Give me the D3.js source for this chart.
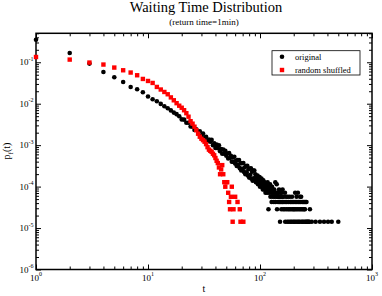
<!DOCTYPE html>
<html><head><meta charset="utf-8">
<script src="https://cdn.jsdelivr.net/npm/d3@7"></script>
<style>body{margin:0;background:#fff}svg{display:block}text{font-family:"Liberation Serif","Times New Roman",serif;fill:#000}</style>
</head><body><svg id="c" width="382" height="296"></svg>
<script>
// ---- data ----
const origT = [1,2,3,4,5,6,7,8,9,10,11,12,13,14,15,16,17,18,19,20,21,22,23,24,25,26,27,28,29,30,
31,32,33,34,35,36,37,38,39,40,41,42,43,44,45,46,47,48,49,50,51,52,53,54,55,56,57,58,59,60,
61,62,63,64,65,66,67,68,69,70,71,72,73,74,75,76,77,78,79,80,81,82,83,84,85,86,87,88,89,
90,91,92,93,94,95,96,97,98,99,100,101,102,103,104,105,106,107,108,109,110,
111,112,113,114,115,116,117,118,119,120,121,122,123,124,125,126,127,128,129,130,
131,132,133,134,135,136,137,138,139,140,141,142,143,144,145,146,147,148,149,150,
151,152,153,154,155,156,157,158,159,160,
161,163,164,166,167,168,170,171,172,174,175,177,178,180,181,183,184,186,187,189,190,192,193,195,196,198,
200,201,203,204,206,207,209,210,212,213,215,216,218,219,221,223,224,226,228,229,231,233,234,236,238,240,
242,244,246,248,250,252,253,256,258,260,263,267,272,276,279,290,314,343,373,405,437,500];
const origP = [0.35,0.168,0.093,0.058,0.0435,0.0335,0.0254,0.0223,0.0189,0.0149,0.0128,0.0115,0.0099,0.0087,0.0078,0.0069,0.0061,0.0056,
5.0e-3,4.18e-3,4.13e-3,3.48e-3,3.48e-3,2.82e-3,2.77e-3,2.32e-3,2.40e-3,2.07e-3,2.16e-3,1.71e-3,
1.91e-3,1.52e-3,1.60e-3,1.25e-3,1.37e-3,1.21e-3,1.34e-3,1.00e-3,1.11e-3,8.59e-4,1.03e-3,8.47e-4,9.91e-4,7.16e-4,8.02e-4,6.21e-4,7.82e-4,6.22e-4,7.31e-4,5.56e-4,
6.27e-4,4.78e-4,6.47e-4,4.94e-4,5.57e-4,3.98e-4,5.05e-4,3.95e-4,5.26e-4,3.59e-4,
4.17e-4,3.13e-4,4.37e-4,3.35e-4,4.38e-4,2.79e-4,3.65e-4,2.44e-4,3.67e-4,2.70e-4,
3.70e-4,2.26e-4,2.90e-4,1.99e-4,3.14e-4,2.21e-4,3.18e-4,1.86e-4,2.62e-4,1.65e-4,
2.72e-4,1.92e-4,2.77e-4,1.55e-4,2.29e-4,1.38e-4,2.44e-4,1.58e-4,2.44e-4,
1.562e-4,1.988e-4,1.278e-4,1.704e-4,1.42e-4,1.846e-4,1.136e-4,1.562e-4,1.278e-4,1.704e-4,9.94e-5,
1.42e-4,1.136e-4,1.562e-4,9.94e-5,1.278e-4,8.52e-5,1.42e-4,1.136e-4,8.52e-5,1.278e-4,
9.94e-5,7.10e-5,1.136e-4,8.52e-5,9.94e-5,7.10e-5,1.278e-4,8.52e-5,2.84e-5,9.94e-5,
7.10e-5,8.52e-5,1.136e-4,5.68e-5,8.52e-5,7.10e-5,4.26e-5,9.94e-5,7.10e-5,5.68e-5,
8.52e-5,7.10e-5,4.26e-5,8.52e-5,5.68e-5,7.10e-5,1.278e-4,4.26e-5,7.10e-5,5.68e-5,
1.136e-4,2.84e-5,7.10e-5,5.68e-5,4.26e-5,7.10e-5,5.68e-5,8.52e-5,4.26e-5,5.68e-5,
1.42e-5,7.10e-5,4.26e-5,5.68e-5,2.84e-5,7.10e-5,4.26e-5,5.68e-5,8.52e-5,4.26e-5,
2.84e-5,5.68e-5,4.26e-5,2.84e-5,7.10e-5,1.42e-5,4.26e-5,5.68e-5,2.84e-5,4.26e-5,1.42e-5,5.68e-5,2.84e-5,4.26e-5,1.42e-5,2.84e-5,5.68e-5,4.26e-5,1.42e-5,2.84e-5,4.26e-5,1.42e-5,5.68e-5,2.84e-5,4.26e-5,1.42e-5,
2.84e-5,4.26e-5,1.42e-5,2.84e-5,7.10e-5,4.26e-5,1.42e-5,2.84e-5,5.68e-5,4.26e-5,1.42e-5,2.84e-5,7.10e-5,4.26e-5,1.42e-5,2.84e-5,4.26e-5,1.42e-5,5.68e-5,2.84e-5,4.26e-5,5.68e-5,1.42e-5,2.84e-5,4.26e-5,1.42e-5,
2.84e-5,4.26e-5,1.42e-5,2.84e-5,4.26e-5,2.84e-5,1.42e-5,4.26e-5,1.42e-5,4.26e-5,1.42e-5,1.42e-5,1.42e-5,1.42e-5,2.84e-5,1.42e-5,1.42e-5,1.42e-5,1.42e-5,1.42e-5,1.42e-5,1.42e-5];

const shufT = [1,2,3,4,5,6,7,8,9,10,11,12,13,14,15,16,17,18,19,20,21,22,23,24,25,26,27,28,29,30,
31,32,33,34,35,36,37,38,39,40,41,42,43,44,45,46,47,48,49,50,51,52,53,54,55,56,57,58,60,63,66,67,71];
const shufP = [0.134,0.116,0.0984,0.0881,0.0745,0.0641,0.0565,0.0486,0.0396,0.0354,0.0317,0.0254,0.0220,0.0192,0.0169,0.0142,0.0121,0.0103,
8.95e-3,8.0e-3,6.97e-3,5.9e-3,4.86e-3,3.79e-3,3.3e-3,2.79e-3,2.30e-3,1.89e-3,1.60e-3,1.43e-3,
1.32e-3,1.21e-3,1.06e-3,8.95e-4,7.8e-4,7.3e-4,6.9e-4,6.2e-4,5.7e-4,4.9e-4,4.2e-4,3.7e-4,2.9e-4,1.988e-4,2.6e-4,3.3e-4,1.988e-4,1.278e-4,9.94e-5,1.278e-4,
1.278e-4,7.10e-5,4.26e-5,2.84e-5,5.68e-5,9.94e-5,1.42e-5,2.84e-5,5.68e-5,4.26e-5,2.84e-5,1.42e-5,1.42e-5];

const xMajor = [1,10,100,1000];
const xMajorExp = ["0","1","2","3"];
const yMajor = [1e-6,1e-5,1e-4,1e-3,1e-2,1e-1];
const yMajorExp = ["-6","-5","-4","-3","-2","-1"];
const seriesNames = ["original","random shuffled"];
const titleText = "Waiting Time Distribution";
const subtitleText = "(return time=1min)";

// ---- layout ----
const L = 36, R = 372, T = 33.3, B = 269.5;
const svg = d3.select("#c");
svg.append("rect").attr("width",382).attr("height",296).attr("fill","#fff");

const x = d3.scaleLog().domain([1,1000]).range([L,R]);
const y = d3.scaleLog().domain([1e-6,0.5]).range([B,T]);

function minors(lo, hi){
  const out=[];
  for(let e=lo;e<hi;e++){ for(let m=2;m<=9;m++){ out.push(m*Math.pow(10,e)); } }
  return out;
}
const xMinor = minors(0,3);
const yMinor = minors(-6,0).filter(v=>v<=0.5);

function axisGroup(axis, tr){
  const g = svg.append("g").attr("transform",tr).call(axis);
  g.select(".domain").remove();
  g.selectAll(".tick line").attr("stroke","#000").attr("stroke-width",1);
  return g;
}
const MJ=5, MN=3;
axisGroup(d3.axisBottom(x).tickValues(xMajor).tickSize(-MJ).tickSizeOuter(0).tickFormat(""), `translate(0,${B})`);
axisGroup(d3.axisBottom(x).tickValues(xMinor).tickSize(-MN).tickSizeOuter(0).tickFormat(""), `translate(0,${B})`);
axisGroup(d3.axisTop(x).tickValues(xMajor).tickSize(-MJ).tickSizeOuter(0).tickFormat(""), `translate(0,${T})`);
axisGroup(d3.axisTop(x).tickValues(xMinor).tickSize(-MN).tickSizeOuter(0).tickFormat(""), `translate(0,${T})`);
axisGroup(d3.axisLeft(y).tickValues(yMajor).tickSize(-MJ).tickSizeOuter(0).tickFormat(""), `translate(${L},0)`);
axisGroup(d3.axisLeft(y).tickValues(yMinor).tickSize(-MN).tickSizeOuter(0).tickFormat(""), `translate(${L},0)`);
axisGroup(d3.axisRight(y).tickValues(yMajor).tickSize(-MJ).tickSizeOuter(0).tickFormat(""), `translate(${R},0)`);
axisGroup(d3.axisRight(y).tickValues(yMinor).tickSize(-MN).tickSizeOuter(0).tickFormat(""), `translate(${R},0)`);

svg.append("rect").attr("x",L).attr("y",T).attr("width",R-L).attr("height",B-T)
  .attr("fill","none").attr("stroke","#000").attr("stroke-width",1.5);

// tick labels
xMajor.forEach((v,i)=>{
  const t = svg.append("text").attr("x",x(v)).attr("y",280.5).attr("text-anchor","middle").attr("font-size",9);
  t.append("tspan").text("10");
  t.append("tspan").attr("dy",-4.5).attr("font-size",6).text(xMajorExp[i]);
});
yMajor.forEach((v,i)=>{
  const t = svg.append("text").attr("x",33.5).attr("y",y(v)+3).attr("text-anchor","end").attr("font-size",9);
  t.append("tspan").text("10");
  t.append("tspan").attr("dy",-4.5).attr("font-size",6).text(yMajorExp[i]);
});

// titles
svg.append("text").attr("x",206).attr("y",12).attr("text-anchor","middle").attr("font-size",14.5).text(titleText);
svg.append("text").attr("x",204).attr("y",25).attr("text-anchor","middle").attr("font-size",9).text(subtitleText);
svg.append("text").attr("x",204).attr("y",292).attr("text-anchor","middle").attr("font-size",10).text("t");
const yt = svg.append("text").attr("transform","translate(10,151) rotate(-90)").attr("text-anchor","middle").attr("font-size",10);
yt.append("tspan").text("p");
yt.append("tspan").attr("dy",2.5).attr("font-size",7).text("f");
yt.append("tspan").attr("dy",-2.5).text("(t)");

// data
const orig = origT.map((t,i)=>({t, p:origP[i]}));
const shuf = shufT.map((t,i)=>({t, p:shufP[i]}));
const RAD = 2.3, SQ = 4.4;
svg.append("g").selectAll("circle").data(orig).join("circle")
  .attr("cx",d=>x(d.t)).attr("cy",d=>y(d.p)).attr("r",RAD).attr("fill","#000");
svg.append("g").selectAll("rect").data(shuf).join("rect")
  .attr("x",d=>x(d.t)-SQ/2).attr("y",d=>y(d.p)-SQ/2).attr("width",SQ).attr("height",SQ).attr("fill","#ff0000");

// legend
const lg = svg.append("g");
lg.append("rect").attr("x",272).attr("y",50.7).attr("width",88).attr("height",24.3)
  .attr("fill","#fff").attr("stroke","#000").attr("stroke-width",0.8);
lg.append("circle").attr("cx",282).attr("cy",56.8).attr("r",RAD).attr("fill","#000");
lg.append("rect").attr("x",282-SQ/2).attr("y",70-SQ/2).attr("width",SQ).attr("height",SQ).attr("fill","#ff0000");
lg.append("text").attr("x",295).attr("y",59.5).attr("font-size",8.5).text(seriesNames[0]);
lg.append("text").attr("x",295).attr("y",72.8).attr("font-size",8.5).text(seriesNames[1]);
</script></body></html>
